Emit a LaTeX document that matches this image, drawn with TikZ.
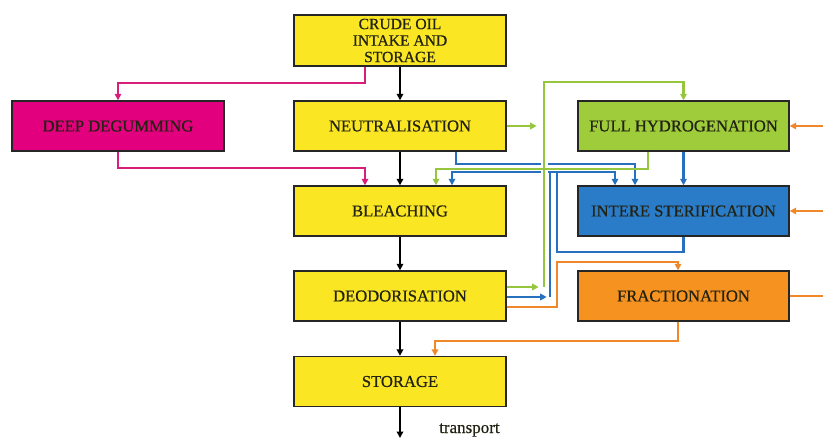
\documentclass[tikz,border=0pt]{standalone}
\usepackage{fontspec}
\setmainfont[FakeBold=0.6]{Liberation Serif}
\usetikzlibrary{arrows.meta}
\definecolor{cyel}{RGB}{250,230,35}
\definecolor{cmag}{RGB}{226,0,126}
\definecolor{cmagl}{RGB}{214,30,122}
\definecolor{cgrn}{RGB}{158,204,58}
\definecolor{cgrnl}{RGB}{150,198,62}
\definecolor{cblu}{RGB}{42,124,200}
\definecolor{cblul}{RGB}{40,112,190}
\definecolor{corg}{RGB}{246,146,32}
\definecolor{corgl}{RGB}{238,136,42}
\definecolor{ctxt}{RGB}{35,35,20}
\tikzset{
  box/.style={draw=black!85, line width=1.4pt, minimum width=212pt, minimum height=50pt,
    inner sep=0pt, align=center, text=ctxt, font=\fontsize{16.6}{18}\selectfont},
  tip/.style={-{Triangle[length=6.5pt,width=6.5pt]}},
  kline/.style={tip, draw=black, line width=1.8pt},
  mline/.style={draw=cmagl, line width=2.4pt},
  gline/.style={draw=cgrnl, line width=2.4pt},
  bline/.style={draw=cblul, line width=2.4pt},
  oline/.style={draw=corgl, line width=2.4pt},
}
\begin{document}
\begin{tikzpicture}[x=1pt,y=-1pt]
\useasboundingbox (0,0) rectangle (823,439);
% nodes
\node[box, fill=cyel, minimum height=51pt, font=\fontsize{15.6}{16.5}\selectfont] (crude) at (400,40.5) {CRUDE OIL\\INTAKE AND\\STORAGE};
\node[box, fill=cyel] (neut) at (400,126) {NEUTRALISATION};
\node[box, fill=cyel] (bleach) at (400,211) {BLEACHING};
\node[box, fill=cyel] (deod) at (400,296) {DEODORISATION};
\node[box, fill=cyel] (storage) at (400,381.5) {STORAGE};
\node[box, fill=cmag] (deep) at (118,126) {DEEP DEGUMMING};
\node[box, fill=cgrn, minimum width=211pt] (hydro) at (683.5,126) {FULL HYDROGENATION};
\node[box, fill=cblu, minimum width=211pt] (intere) at (683.5,211) {INTERE STERIFICATION};
\node[box, fill=corg, minimum width=211pt] (frac) at (683.5,296) {FRACTIONATION};
\coordinate (tr) at (400,438);
\node[anchor=base west, font=\fontsize{17}{18}\selectfont, text=ctxt, inner sep=0pt] (trl) at (439,433) {transport};
% black flow
\draw[kline] (crude.south) -- (neut.north);
\draw[kline] (neut.south) -- (bleach.north);
\draw[kline] (bleach.south) -- (deod.north);
\draw[kline] (deod.south) -- (storage.north);
\draw[kline] (storage.south) -- (tr);
% magenta
\draw[mline, tip] ([xshift=-35pt]crude.south) -- ++(0,16) -| (deep.north);
\draw[mline, tip] (deep.south) -- ++(0,16) -| ([xshift=-35pt]bleach.north);
% blue
\draw[bline, tip] (hydro.south) -- (intere.north);
\draw[bline, tip] ([xshift=56pt]neut.south) -- ++(0,12) -| ([xshift=-48.5pt]intere.north);
\coordinate (bi1) at (557,252);
\coordinate (bi2) at (557,172);
\draw[bline, tip] (intere.south) -- (intere.south |- bi1) -- (bi1) -- (bi2) -| ([xshift=52pt]bleach.north);
\draw[bline, tip] ([yshift=-1pt]deod.east) -- ++(40,0);
\coordinate (bd1) at (550,297);
\coordinate (bd2) at (550,172);
\draw[bline, tip] (bd1) -- (bd2) -| ([xshift=-68.5pt]intere.north);
% green (with white halo on the vertical)
\coordinate (gv1) at (544,287);
\coordinate (gv2) at (544,82);
\draw[white, line width=7pt] (544,158) -- (544,177);
\draw[gline, tip] (gv1) -- (gv2) -| (hydro.north);
\draw[gline, tip] (neut.east) -- ++(30,0);
\draw[gline, tip] ([yshift=9pt]deod.east) -- ++(32,0);
\draw[gline, tip] ([xshift=-35.5pt]hydro.south) -- ++(0,17) -| ([xshift=36pt]bleach.north);
% orange
\coordinate (od1) at (557,307);
\coordinate (od2) at (557,262);
\draw[oline, tip] ([yshift=-11pt]deod.east) -- (od1) -- (od2) -| ([xshift=-5.5pt]frac.north);
\draw[oline, tip] ([xshift=-5.5pt]frac.south) -- ++(0,19) -| ([xshift=35pt]storage.north);
\coordinate (or1) at (832,296);
\coordinate (or2) at (832,126);
\coordinate (or3) at (832,211);
\draw[oline, tip] (frac.east) -- (or1) -- (or2) -- (hydro.east);
\draw[oline, tip] (or3) -- (intere.east);
\end{tikzpicture}
\end{document}
